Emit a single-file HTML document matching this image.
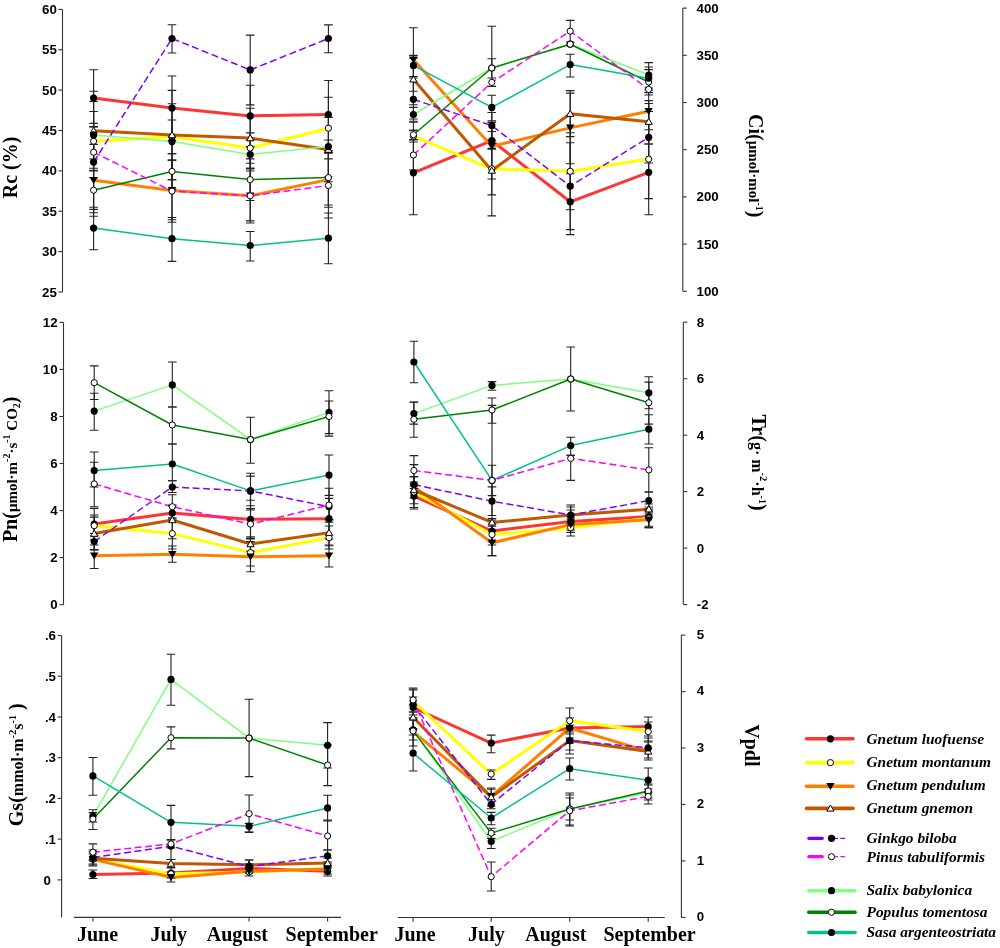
<!DOCTYPE html>
<html><head><meta charset="utf-8"><style>
html,body{margin:0;padding:0;background:#fff;}
svg{display:block;will-change:transform;}
</style></head><body>
<svg width="1000" height="948" viewBox="0 0 1000 948">
<rect width="1000" height="948" fill="#fff"/>
<path d="M62.5,9.4V292" stroke="#333" stroke-width="1.1" fill="none"/>
<path d="M58.5,9.4H62.5" stroke="#333" stroke-width="1.1"/>
<text x="56.8" y="13.9" font-family="Liberation Sans, sans-serif" font-weight="bold" font-size="13.3" text-anchor="end">60</text>
<path d="M58.5,49.8H62.5" stroke="#333" stroke-width="1.1"/>
<text x="56.8" y="54.3" font-family="Liberation Sans, sans-serif" font-weight="bold" font-size="13.3" text-anchor="end">55</text>
<path d="M58.5,90.1H62.5" stroke="#333" stroke-width="1.1"/>
<text x="56.8" y="94.6" font-family="Liberation Sans, sans-serif" font-weight="bold" font-size="13.3" text-anchor="end">50</text>
<path d="M58.5,130.5H62.5" stroke="#333" stroke-width="1.1"/>
<text x="56.8" y="135.0" font-family="Liberation Sans, sans-serif" font-weight="bold" font-size="13.3" text-anchor="end">45</text>
<path d="M58.5,170.9H62.5" stroke="#333" stroke-width="1.1"/>
<text x="56.8" y="175.4" font-family="Liberation Sans, sans-serif" font-weight="bold" font-size="13.3" text-anchor="end">40</text>
<path d="M58.5,211.2H62.5" stroke="#333" stroke-width="1.1"/>
<text x="56.8" y="215.8" font-family="Liberation Sans, sans-serif" font-weight="bold" font-size="13.3" text-anchor="end">35</text>
<path d="M58.5,251.6H62.5" stroke="#333" stroke-width="1.1"/>
<text x="56.8" y="256.1" font-family="Liberation Sans, sans-serif" font-weight="bold" font-size="13.3" text-anchor="end">30</text>
<path d="M58.5,292.0H62.5" stroke="#333" stroke-width="1.1"/>
<text x="56.8" y="296.5" font-family="Liberation Sans, sans-serif" font-weight="bold" font-size="13.3" text-anchor="end">25</text>
<polyline points="93.6,98.1 172.0,108.1 250.2,115.9 328.4,114.5" fill="none" stroke="#FF3535" stroke-width="3.0" stroke-linejoin="round"/>
<polyline points="93.6,141.2 172.0,136.8 250.2,148.1 328.4,128.2" fill="none" stroke="#FFFF00" stroke-width="3.0" stroke-linejoin="round"/>
<polyline points="93.6,180.3 172.0,190.4 250.2,195.8 328.4,179.6" fill="none" stroke="#FF8000" stroke-width="3.0" stroke-linejoin="round"/>
<polyline points="93.6,130.7 172.0,135.0 250.2,138.1 328.4,149.6" fill="none" stroke="#C05800" stroke-width="3.0" stroke-linejoin="round"/>
<polyline points="93.6,134.9 172.0,141.6 250.2,154.5 328.4,146.6" fill="none" stroke="#80FF80" stroke-width="1.5" stroke-linejoin="round"/>
<polyline points="93.6,190.2 172.0,171.4 250.2,179.6 328.4,177.6" fill="none" stroke="#008000" stroke-width="1.5" stroke-linejoin="round"/>
<polyline points="93.6,228.1 172.0,238.7 250.2,245.5 328.4,238.2" fill="none" stroke="#00C090" stroke-width="1.5" stroke-linejoin="round"/>
<polyline points="93.6,162.1 172.0,38.5 250.2,69.9 328.4,38.5" fill="none" stroke="#8000FF" stroke-width="1.5" stroke-linejoin="round" stroke-dasharray="7,3.5"/>
<polyline points="93.6,152.2 172.0,191.1 250.2,195.8 328.4,185.5" fill="none" stroke="#FF00FF" stroke-width="1.5" stroke-linejoin="round" stroke-dasharray="7,3.5"/>
<path d="M93.6,69.8V126.6M89.3,69.8H97.9M89.3,126.6H97.9" stroke="#222" stroke-width="1.1" fill="none"/>
<path d="M172.0,76.0V140.4M167.7,76.0H176.3M167.7,140.4H176.3" stroke="#222" stroke-width="1.1" fill="none"/>
<path d="M250.2,85.2V146.6M245.9,85.2H254.5M245.9,146.6H254.5" stroke="#222" stroke-width="1.1" fill="none"/>
<path d="M328.4,80.5V150.6M324.1,80.5H332.7M324.1,150.6H332.7" stroke="#222" stroke-width="1.1" fill="none"/>
<path d="M93.6,123.4V159.0M89.3,123.4H97.9M89.3,159.0H97.9" stroke="#222" stroke-width="1.1" fill="none"/>
<path d="M172.0,120.0V153.8M167.7,120.0H176.3M167.7,153.8H176.3" stroke="#222" stroke-width="1.1" fill="none"/>
<path d="M250.2,132.9V163.3M245.9,132.9H254.5M245.9,163.3H254.5" stroke="#222" stroke-width="1.1" fill="none"/>
<path d="M328.4,97.2V158.9M324.1,97.2H332.7M324.1,158.9H332.7" stroke="#222" stroke-width="1.1" fill="none"/>
<path d="M93.6,144.4V216.2M89.3,144.4H97.9M89.3,216.2H97.9" stroke="#222" stroke-width="1.1" fill="none"/>
<path d="M172.0,160.1V219.8M167.7,160.1H176.3M167.7,219.8H176.3" stroke="#222" stroke-width="1.1" fill="none"/>
<path d="M250.2,168.3V223.0M245.9,168.3H254.5M245.9,223.0H254.5" stroke="#222" stroke-width="1.1" fill="none"/>
<path d="M328.4,152.8V207.2M324.1,152.8H332.7M324.1,207.2H332.7" stroke="#222" stroke-width="1.1" fill="none"/>
<path d="M93.6,91.2V170.2M89.3,91.2H97.9M89.3,170.2H97.9" stroke="#222" stroke-width="1.1" fill="none"/>
<path d="M172.0,90.4V179.8M167.7,90.4H176.3M167.7,179.8H176.3" stroke="#222" stroke-width="1.1" fill="none"/>
<path d="M250.2,108.3V168.3M245.9,108.3H254.5M245.9,168.3H254.5" stroke="#222" stroke-width="1.1" fill="none"/>
<path d="M328.4,117.4V181.8M324.1,117.4H332.7M324.1,181.8H332.7" stroke="#222" stroke-width="1.1" fill="none"/>
<path d="M93.6,101.5V168.3M89.3,101.5H97.9M89.3,168.3H97.9" stroke="#222" stroke-width="1.1" fill="none"/>
<path d="M172.0,103.7V179.8M167.7,103.7H176.3M167.7,179.8H176.3" stroke="#222" stroke-width="1.1" fill="none"/>
<path d="M250.2,140.0V169.0M245.9,140.0H254.5M245.9,169.0H254.5" stroke="#222" stroke-width="1.1" fill="none"/>
<path d="M328.4,140.0V152.8M324.1,140.0H332.7M324.1,152.8H332.7" stroke="#222" stroke-width="1.1" fill="none"/>
<path d="M93.6,170.9V209.4M89.3,170.9H97.9M89.3,209.4H97.9" stroke="#222" stroke-width="1.1" fill="none"/>
<path d="M172.0,153.8V189.4M167.7,153.8H176.3M167.7,189.4H176.3" stroke="#222" stroke-width="1.1" fill="none"/>
<path d="M250.2,158.9V200.5M245.9,158.9H254.5M245.9,200.5H254.5" stroke="#222" stroke-width="1.1" fill="none"/>
<path d="M328.4,150.6V205.0M324.1,150.6H332.7M324.1,205.0H332.7" stroke="#222" stroke-width="1.1" fill="none"/>
<path d="M93.6,207.3V249.8M89.3,207.3H97.9M89.3,249.8H97.9" stroke="#222" stroke-width="1.1" fill="none"/>
<path d="M172.0,217.5V261.4M167.7,217.5H176.3M167.7,261.4H176.3" stroke="#222" stroke-width="1.1" fill="none"/>
<path d="M250.2,231.5V261.0M245.9,231.5H254.5M245.9,261.0H254.5" stroke="#222" stroke-width="1.1" fill="none"/>
<path d="M328.4,213.0V263.7M324.1,213.0H332.7M324.1,263.7H332.7" stroke="#222" stroke-width="1.1" fill="none"/>
<path d="M93.6,111.5V212.7M89.3,111.5H97.9M89.3,212.7H97.9" stroke="#222" stroke-width="1.1" fill="none"/>
<path d="M172.0,24.8V53.0M167.7,24.8H176.3M167.7,53.0H176.3" stroke="#222" stroke-width="1.1" fill="none"/>
<path d="M250.2,35.1V104.9M245.9,35.1H254.5M245.9,104.9H254.5" stroke="#222" stroke-width="1.1" fill="none"/>
<path d="M328.4,24.9V52.8M324.1,24.9H332.7M324.1,52.8H332.7" stroke="#222" stroke-width="1.1" fill="none"/>
<path d="M93.6,126.9V177.5M89.3,126.9H97.9M89.3,177.5H97.9" stroke="#222" stroke-width="1.1" fill="none"/>
<path d="M172.0,160.1V222.3M167.7,160.1H176.3M167.7,222.3H176.3" stroke="#222" stroke-width="1.1" fill="none"/>
<path d="M250.2,171.0V220.9M245.9,171.0H254.5M245.9,220.9H254.5" stroke="#222" stroke-width="1.1" fill="none"/>
<path d="M328.4,153.0V218.0M324.1,153.0H332.7M324.1,218.0H332.7" stroke="#222" stroke-width="1.1" fill="none"/>
<circle cx="93.6" cy="98.1" r="3.6" fill="#000"/>
<circle cx="172.0" cy="108.1" r="3.6" fill="#000"/>
<circle cx="250.2" cy="115.9" r="3.6" fill="#000"/>
<circle cx="328.4" cy="114.5" r="3.6" fill="#000"/>
<circle cx="93.6" cy="141.2" r="3.1" fill="#fff" stroke="#000" stroke-width="1"/>
<circle cx="172.0" cy="136.8" r="3.1" fill="#fff" stroke="#000" stroke-width="1"/>
<circle cx="250.2" cy="148.1" r="3.1" fill="#fff" stroke="#000" stroke-width="1"/>
<circle cx="328.4" cy="128.2" r="3.1" fill="#fff" stroke="#000" stroke-width="1"/>
<path d="M89.4,177.0L97.8,177.0L93.6,184.1Z" fill="#000"/>
<path d="M167.8,187.1L176.2,187.1L172.0,194.2Z" fill="#000"/>
<path d="M246.0,192.5L254.4,192.5L250.2,199.6Z" fill="#000"/>
<path d="M324.2,176.3L332.6,176.3L328.4,183.4Z" fill="#000"/>
<path d="M90.0,133.4L97.2,133.4L93.6,127.3Z" fill="#fff" stroke="#000" stroke-width="1"/>
<path d="M168.4,137.7L175.6,137.7L172.0,131.6Z" fill="#fff" stroke="#000" stroke-width="1"/>
<path d="M246.6,140.8L253.8,140.8L250.2,134.7Z" fill="#fff" stroke="#000" stroke-width="1"/>
<path d="M324.8,152.3L332.0,152.3L328.4,146.2Z" fill="#fff" stroke="#000" stroke-width="1"/>
<circle cx="93.6" cy="134.9" r="3.6" fill="#000"/>
<circle cx="172.0" cy="141.6" r="3.6" fill="#000"/>
<circle cx="250.2" cy="154.5" r="3.6" fill="#000"/>
<circle cx="328.4" cy="146.6" r="3.6" fill="#000"/>
<circle cx="93.6" cy="190.2" r="3.1" fill="#fff" stroke="#000" stroke-width="1"/>
<circle cx="172.0" cy="171.4" r="3.1" fill="#fff" stroke="#000" stroke-width="1"/>
<circle cx="250.2" cy="179.6" r="3.1" fill="#fff" stroke="#000" stroke-width="1"/>
<circle cx="328.4" cy="177.6" r="3.1" fill="#fff" stroke="#000" stroke-width="1"/>
<circle cx="93.6" cy="228.1" r="3.6" fill="#000"/>
<circle cx="172.0" cy="238.7" r="3.6" fill="#000"/>
<circle cx="250.2" cy="245.5" r="3.6" fill="#000"/>
<circle cx="328.4" cy="238.2" r="3.6" fill="#000"/>
<circle cx="93.6" cy="162.1" r="3.6" fill="#000"/>
<circle cx="172.0" cy="38.5" r="3.6" fill="#000"/>
<circle cx="250.2" cy="69.9" r="3.6" fill="#000"/>
<circle cx="328.4" cy="38.5" r="3.6" fill="#000"/>
<circle cx="93.6" cy="152.2" r="3.1" fill="#fff" stroke="#000" stroke-width="1"/>
<circle cx="172.0" cy="191.1" r="3.1" fill="#fff" stroke="#000" stroke-width="1"/>
<circle cx="250.2" cy="195.8" r="3.1" fill="#fff" stroke="#000" stroke-width="1"/>
<circle cx="328.4" cy="185.5" r="3.1" fill="#fff" stroke="#000" stroke-width="1"/>
<path d="M682.8,8.1V291.3" stroke="#333" stroke-width="1.1" fill="none"/>
<path d="M682.8,8.1H686.8" stroke="#333" stroke-width="1.1"/>
<text x="696.5" y="12.6" font-family="Liberation Sans, sans-serif" font-weight="bold" font-size="13.3">400</text>
<path d="M682.8,55.3H686.8" stroke="#333" stroke-width="1.1"/>
<text x="696.5" y="59.8" font-family="Liberation Sans, sans-serif" font-weight="bold" font-size="13.3">350</text>
<path d="M682.8,102.5H686.8" stroke="#333" stroke-width="1.1"/>
<text x="696.5" y="107.0" font-family="Liberation Sans, sans-serif" font-weight="bold" font-size="13.3">300</text>
<path d="M682.8,149.7H686.8" stroke="#333" stroke-width="1.1"/>
<text x="696.5" y="154.2" font-family="Liberation Sans, sans-serif" font-weight="bold" font-size="13.3">250</text>
<path d="M682.8,196.9H686.8" stroke="#333" stroke-width="1.1"/>
<text x="696.5" y="201.4" font-family="Liberation Sans, sans-serif" font-weight="bold" font-size="13.3">200</text>
<path d="M682.8,244.1H686.8" stroke="#333" stroke-width="1.1"/>
<text x="696.5" y="248.6" font-family="Liberation Sans, sans-serif" font-weight="bold" font-size="13.3">150</text>
<path d="M682.8,291.3H686.8" stroke="#333" stroke-width="1.1"/>
<text x="696.5" y="295.8" font-family="Liberation Sans, sans-serif" font-weight="bold" font-size="13.3">100</text>
<polyline points="413.4,172.8 491.8,140.7 570.2,201.8 648.7,172.3" fill="none" stroke="#FF3535" stroke-width="3.0" stroke-linejoin="round"/>
<polyline points="413.4,136.2 491.8,168.8 570.2,171.3 648.7,159.1" fill="none" stroke="#FFFF00" stroke-width="3.0" stroke-linejoin="round"/>
<polyline points="413.4,59.8 491.8,146.2 570.2,127.9 648.7,111.2" fill="none" stroke="#FF8000" stroke-width="3.0" stroke-linejoin="round"/>
<polyline points="413.4,79.3 491.8,170.5 570.2,113.7 648.7,121.7" fill="none" stroke="#C05800" stroke-width="3.0" stroke-linejoin="round"/>
<polyline points="413.4,114.5 491.8,68.0 570.2,44.2 648.7,75.0" fill="none" stroke="#80FF80" stroke-width="1.5" stroke-linejoin="round"/>
<polyline points="413.4,134.7 491.8,68.0 570.2,44.2 648.7,82.0" fill="none" stroke="#008000" stroke-width="1.5" stroke-linejoin="round"/>
<polyline points="413.4,65.4 491.8,107.4 570.2,64.6 648.7,78.2" fill="none" stroke="#00C090" stroke-width="1.5" stroke-linejoin="round"/>
<polyline points="413.4,99.3 491.8,125.6 570.2,186.2 648.7,137.3" fill="none" stroke="#8000FF" stroke-width="1.5" stroke-linejoin="round" stroke-dasharray="7,3.5"/>
<polyline points="413.4,155.0 491.8,82.4 570.2,31.1 648.7,89.4" fill="none" stroke="#FF00FF" stroke-width="1.5" stroke-linejoin="round" stroke-dasharray="7,3.5"/>
<path d="M413.4,130.8V214.8M409.1,130.8H417.7M409.1,214.8H417.7" stroke="#222" stroke-width="1.1" fill="none"/>
<path d="M491.8,131.5V149.3M487.5,131.5H496.1M487.5,149.3H496.1" stroke="#222" stroke-width="1.1" fill="none"/>
<path d="M570.2,173.8V234.6M565.9,173.8H574.5M565.9,234.6H574.5" stroke="#222" stroke-width="1.1" fill="none"/>
<path d="M648.7,144.0V198.6M644.4,144.0H653.0M644.4,198.6H653.0" stroke="#222" stroke-width="1.1" fill="none"/>
<path d="M413.4,130.0V142.0M409.1,130.0H417.7M409.1,142.0H417.7" stroke="#222" stroke-width="1.1" fill="none"/>
<path d="M491.8,122.3V215.9M487.5,122.3H496.1M487.5,215.9H496.1" stroke="#222" stroke-width="1.1" fill="none"/>
<path d="M570.2,132.8V209.8M565.9,132.8H574.5M565.9,209.8H574.5" stroke="#222" stroke-width="1.1" fill="none"/>
<path d="M648.7,103.5V214.7M644.4,103.5H653.0M644.4,214.7H653.0" stroke="#222" stroke-width="1.1" fill="none"/>
<path d="M413.4,27.7V91.3M409.1,27.7H417.7M409.1,91.3H417.7" stroke="#222" stroke-width="1.1" fill="none"/>
<path d="M491.8,122.3V179.0M487.5,122.3H496.1M487.5,179.0H496.1" stroke="#222" stroke-width="1.1" fill="none"/>
<path d="M570.2,93.1V163.8M565.9,93.1H574.5M565.9,163.8H574.5" stroke="#222" stroke-width="1.1" fill="none"/>
<path d="M648.7,92.6V129.8M644.4,92.6H653.0M644.4,129.8H653.0" stroke="#222" stroke-width="1.1" fill="none"/>
<path d="M413.4,58.1V104.8M409.1,58.1H417.7M409.1,104.8H417.7" stroke="#222" stroke-width="1.1" fill="none"/>
<path d="M491.8,148.4V194.9M487.5,148.4H496.1M487.5,194.9H496.1" stroke="#222" stroke-width="1.1" fill="none"/>
<path d="M570.2,90.6V136.6M565.9,90.6H574.5M565.9,136.6H574.5" stroke="#222" stroke-width="1.1" fill="none"/>
<path d="M648.7,100.6V144.0M644.4,100.6H653.0M644.4,144.0H653.0" stroke="#222" stroke-width="1.1" fill="none"/>
<path d="M413.4,107.4V121.2M409.1,107.4H417.7M409.1,121.2H417.7" stroke="#222" stroke-width="1.1" fill="none"/>
<path d="M491.8,58.7V78.0M487.5,58.7H496.1M487.5,78.0H496.1" stroke="#222" stroke-width="1.1" fill="none"/>
<path d="M648.7,62.6V88.0M644.4,62.6H653.0M644.4,88.0H653.0" stroke="#222" stroke-width="1.1" fill="none"/>
<path d="M413.4,122.3V139.5M409.1,122.3H417.7M409.1,139.5H417.7" stroke="#222" stroke-width="1.1" fill="none"/>
<path d="M648.7,69.6V95.0M644.4,69.6H653.0M644.4,95.0H653.0" stroke="#222" stroke-width="1.1" fill="none"/>
<path d="M413.4,55.4V76.5M409.1,55.4H417.7M409.1,76.5H417.7" stroke="#222" stroke-width="1.1" fill="none"/>
<path d="M491.8,95.3V120.7M487.5,95.3H496.1M487.5,120.7H496.1" stroke="#222" stroke-width="1.1" fill="none"/>
<path d="M570.2,54.2V77.0M565.9,54.2H574.5M565.9,77.0H574.5" stroke="#222" stroke-width="1.1" fill="none"/>
<path d="M648.7,67.0V90.0M644.4,67.0H653.0M644.4,90.0H653.0" stroke="#222" stroke-width="1.1" fill="none"/>
<path d="M413.4,78.0V119.0M409.1,78.0H417.7M409.1,119.0H417.7" stroke="#222" stroke-width="1.1" fill="none"/>
<path d="M491.8,112.5V140.0M487.5,112.5H496.1M487.5,140.0H496.1" stroke="#222" stroke-width="1.1" fill="none"/>
<path d="M570.2,142.8V229.6M565.9,142.8H574.5M565.9,229.6H574.5" stroke="#222" stroke-width="1.1" fill="none"/>
<path d="M648.7,111.5V163.0M644.4,111.5H653.0M644.4,163.0H653.0" stroke="#222" stroke-width="1.1" fill="none"/>
<path d="M413.4,140.0V170.0M409.1,140.0H417.7M409.1,170.0H417.7" stroke="#222" stroke-width="1.1" fill="none"/>
<path d="M491.8,26.2V86.4M487.5,26.2H496.1M487.5,86.4H496.1" stroke="#222" stroke-width="1.1" fill="none"/>
<path d="M570.2,20.4V42.0M565.9,20.4H574.5M565.9,42.0H574.5" stroke="#222" stroke-width="1.1" fill="none"/>
<circle cx="413.4" cy="172.8" r="3.6" fill="#000"/>
<circle cx="491.8" cy="140.7" r="3.6" fill="#000"/>
<circle cx="570.2" cy="201.8" r="3.6" fill="#000"/>
<circle cx="648.7" cy="172.3" r="3.6" fill="#000"/>
<circle cx="413.4" cy="136.2" r="3.1" fill="#fff" stroke="#000" stroke-width="1"/>
<circle cx="491.8" cy="168.8" r="3.1" fill="#fff" stroke="#000" stroke-width="1"/>
<circle cx="570.2" cy="171.3" r="3.1" fill="#fff" stroke="#000" stroke-width="1"/>
<circle cx="648.7" cy="159.1" r="3.1" fill="#fff" stroke="#000" stroke-width="1"/>
<path d="M409.2,56.5L417.6,56.5L413.4,63.6Z" fill="#000"/>
<path d="M487.6,142.9L496.0,142.9L491.8,150.0Z" fill="#000"/>
<path d="M566.0,124.6L574.4,124.6L570.2,131.7Z" fill="#000"/>
<path d="M644.5,107.9L652.9,107.9L648.7,115.0Z" fill="#000"/>
<path d="M409.8,82.0L417.0,82.0L413.4,75.9Z" fill="#fff" stroke="#000" stroke-width="1"/>
<path d="M488.2,173.2L495.4,173.2L491.8,167.1Z" fill="#fff" stroke="#000" stroke-width="1"/>
<path d="M566.6,116.4L573.8,116.4L570.2,110.3Z" fill="#fff" stroke="#000" stroke-width="1"/>
<path d="M645.1,124.4L652.3,124.4L648.7,118.3Z" fill="#fff" stroke="#000" stroke-width="1"/>
<circle cx="413.4" cy="114.5" r="3.6" fill="#000"/>
<circle cx="491.8" cy="68.0" r="3.6" fill="#000"/>
<circle cx="570.2" cy="44.2" r="3.6" fill="#000"/>
<circle cx="648.7" cy="75.0" r="3.6" fill="#000"/>
<circle cx="413.4" cy="134.7" r="3.1" fill="#fff" stroke="#000" stroke-width="1"/>
<circle cx="491.8" cy="68.0" r="3.1" fill="#fff" stroke="#000" stroke-width="1"/>
<circle cx="570.2" cy="44.2" r="3.1" fill="#fff" stroke="#000" stroke-width="1"/>
<circle cx="648.7" cy="82.0" r="3.1" fill="#fff" stroke="#000" stroke-width="1"/>
<circle cx="413.4" cy="65.4" r="3.6" fill="#000"/>
<circle cx="491.8" cy="107.4" r="3.6" fill="#000"/>
<circle cx="570.2" cy="64.6" r="3.6" fill="#000"/>
<circle cx="648.7" cy="78.2" r="3.6" fill="#000"/>
<circle cx="413.4" cy="99.3" r="3.6" fill="#000"/>
<circle cx="491.8" cy="125.6" r="3.6" fill="#000"/>
<circle cx="570.2" cy="186.2" r="3.6" fill="#000"/>
<circle cx="648.7" cy="137.3" r="3.6" fill="#000"/>
<circle cx="413.4" cy="155.0" r="3.1" fill="#fff" stroke="#000" stroke-width="1"/>
<circle cx="491.8" cy="82.4" r="3.1" fill="#fff" stroke="#000" stroke-width="1"/>
<circle cx="570.2" cy="31.1" r="3.1" fill="#fff" stroke="#000" stroke-width="1"/>
<circle cx="648.7" cy="89.4" r="3.1" fill="#fff" stroke="#000" stroke-width="1"/>
<path d="M63.5,322.4V604.7" stroke="#333" stroke-width="1.1" fill="none"/>
<path d="M59.5,322.4H63.5" stroke="#333" stroke-width="1.1"/>
<text x="57.6" y="326.9" font-family="Liberation Sans, sans-serif" font-weight="bold" font-size="13.3" text-anchor="end">12</text>
<path d="M59.5,369.4H63.5" stroke="#333" stroke-width="1.1"/>
<text x="57.6" y="373.9" font-family="Liberation Sans, sans-serif" font-weight="bold" font-size="13.3" text-anchor="end">10</text>
<path d="M59.5,416.5H63.5" stroke="#333" stroke-width="1.1"/>
<text x="57.6" y="421.0" font-family="Liberation Sans, sans-serif" font-weight="bold" font-size="13.3" text-anchor="end">8</text>
<path d="M59.5,463.5H63.5" stroke="#333" stroke-width="1.1"/>
<text x="57.6" y="468.0" font-family="Liberation Sans, sans-serif" font-weight="bold" font-size="13.3" text-anchor="end">6</text>
<path d="M59.5,510.6H63.5" stroke="#333" stroke-width="1.1"/>
<text x="57.6" y="515.1" font-family="Liberation Sans, sans-serif" font-weight="bold" font-size="13.3" text-anchor="end">4</text>
<path d="M59.5,557.6H63.5" stroke="#333" stroke-width="1.1"/>
<text x="57.6" y="562.1" font-family="Liberation Sans, sans-serif" font-weight="bold" font-size="13.3" text-anchor="end">2</text>
<path d="M59.5,604.7H63.5" stroke="#333" stroke-width="1.1"/>
<text x="57.6" y="609.2" font-family="Liberation Sans, sans-serif" font-weight="bold" font-size="13.3" text-anchor="end">0</text>
<polyline points="94.2,524.1 172.3,513.0 250.5,519.4 329.0,518.7" fill="none" stroke="#FF3535" stroke-width="3.0" stroke-linejoin="round"/>
<polyline points="94.2,525.7 172.3,533.6 250.5,552.6 329.0,537.7" fill="none" stroke="#FFFF00" stroke-width="3.0" stroke-linejoin="round"/>
<polyline points="94.2,555.8 172.3,554.2 250.5,556.7 329.0,555.8" fill="none" stroke="#FF8000" stroke-width="3.0" stroke-linejoin="round"/>
<polyline points="94.2,533.6 172.3,520.0 250.5,544.0 329.0,532.7" fill="none" stroke="#C05800" stroke-width="3.0" stroke-linejoin="round"/>
<polyline points="94.2,411.1 172.3,384.9 250.5,439.6 329.0,412.4" fill="none" stroke="#80FF80" stroke-width="1.5" stroke-linejoin="round"/>
<polyline points="94.2,382.7 172.3,425.0 250.5,439.6 329.0,416.5" fill="none" stroke="#008000" stroke-width="1.5" stroke-linejoin="round"/>
<polyline points="94.2,470.6 172.3,464.0 250.5,490.9 329.0,475.1" fill="none" stroke="#00C090" stroke-width="1.5" stroke-linejoin="round"/>
<polyline points="94.2,541.5 172.3,487.1 250.5,490.9 329.0,506.7" fill="none" stroke="#8000FF" stroke-width="1.5" stroke-linejoin="round" stroke-dasharray="7,3.5"/>
<polyline points="94.2,483.9 172.3,506.7 250.5,524.1 329.0,505.1" fill="none" stroke="#FF00FF" stroke-width="1.5" stroke-linejoin="round" stroke-dasharray="7,3.5"/>
<path d="M94.2,508.4V540.0M89.9,508.4H98.5M89.9,540.0H98.5" stroke="#222" stroke-width="1.1" fill="none"/>
<path d="M172.3,506.0V520.0M168.0,506.0H176.6M168.0,520.0H176.6" stroke="#222" stroke-width="1.1" fill="none"/>
<path d="M250.5,500.3V538.5M246.2,500.3H254.8M246.2,538.5H254.8" stroke="#222" stroke-width="1.1" fill="none"/>
<path d="M329.0,498.4V539.0M324.7,498.4H333.3M324.7,539.0H333.3" stroke="#222" stroke-width="1.1" fill="none"/>
<path d="M94.2,515.0V536.0M89.9,515.0H98.5M89.9,536.0H98.5" stroke="#222" stroke-width="1.1" fill="none"/>
<path d="M172.3,518.0V549.0M168.0,518.0H176.6M168.0,549.0H176.6" stroke="#222" stroke-width="1.1" fill="none"/>
<path d="M250.5,539.0V566.0M246.2,539.0H254.8M246.2,566.0H254.8" stroke="#222" stroke-width="1.1" fill="none"/>
<path d="M329.0,526.0V549.0M324.7,526.0H333.3M324.7,549.0H333.3" stroke="#222" stroke-width="1.1" fill="none"/>
<path d="M94.2,545.0V568.5M89.9,545.0H98.5M89.9,568.5H98.5" stroke="#222" stroke-width="1.1" fill="none"/>
<path d="M172.3,546.0V562.3M168.0,546.0H176.6M168.0,562.3H176.6" stroke="#222" stroke-width="1.1" fill="none"/>
<path d="M250.5,541.6V571.8M246.2,541.6H254.8M246.2,571.8H254.8" stroke="#222" stroke-width="1.1" fill="none"/>
<path d="M329.0,545.0V567.0M324.7,545.0H333.3M324.7,567.0H333.3" stroke="#222" stroke-width="1.1" fill="none"/>
<path d="M94.2,517.1V550.0M89.9,517.1H98.5M89.9,550.0H98.5" stroke="#222" stroke-width="1.1" fill="none"/>
<path d="M172.3,505.0V538.8M168.0,505.0H176.6M168.0,538.8H176.6" stroke="#222" stroke-width="1.1" fill="none"/>
<path d="M250.5,536.7V551.3M246.2,536.7H254.8M246.2,551.3H254.8" stroke="#222" stroke-width="1.1" fill="none"/>
<path d="M329.0,519.7V545.7M324.7,519.7H333.3M324.7,545.7H333.3" stroke="#222" stroke-width="1.1" fill="none"/>
<path d="M94.2,393.2V430.2M89.9,393.2H98.5M89.9,430.2H98.5" stroke="#222" stroke-width="1.1" fill="none"/>
<path d="M172.3,362.0V407.0M168.0,362.0H176.6M168.0,407.0H176.6" stroke="#222" stroke-width="1.1" fill="none"/>
<path d="M329.0,390.7V436.1M324.7,390.7H333.3M324.7,436.1H333.3" stroke="#222" stroke-width="1.1" fill="none"/>
<path d="M94.2,365.9V399.5M89.9,365.9H98.5M89.9,399.5H98.5" stroke="#222" stroke-width="1.1" fill="none"/>
<path d="M172.3,407.0V444.0M168.0,407.0H176.6M168.0,444.0H176.6" stroke="#222" stroke-width="1.1" fill="none"/>
<path d="M250.5,417.2V463.2M246.2,417.2H254.8M246.2,463.2H254.8" stroke="#222" stroke-width="1.1" fill="none"/>
<path d="M329.0,401.0V433.6M324.7,401.0H333.3M324.7,433.6H333.3" stroke="#222" stroke-width="1.1" fill="none"/>
<path d="M94.2,452.0V487.0M89.9,452.0H98.5M89.9,487.0H98.5" stroke="#222" stroke-width="1.1" fill="none"/>
<path d="M172.3,444.0V480.8M168.0,444.0H176.6M168.0,480.8H176.6" stroke="#222" stroke-width="1.1" fill="none"/>
<path d="M250.5,473.2V508.6M246.2,473.2H254.8M246.2,508.6H254.8" stroke="#222" stroke-width="1.1" fill="none"/>
<path d="M329.0,455.0V495.2M324.7,455.0H333.3M324.7,495.2H333.3" stroke="#222" stroke-width="1.1" fill="none"/>
<path d="M94.2,533.5V549.6M89.9,533.5H98.5M89.9,549.6H98.5" stroke="#222" stroke-width="1.1" fill="none"/>
<path d="M172.3,480.8V492.5M168.0,480.8H176.6M168.0,492.5H176.6" stroke="#222" stroke-width="1.1" fill="none"/>
<path d="M250.5,476.1V505.7M246.2,476.1H254.8M246.2,505.7H254.8" stroke="#222" stroke-width="1.1" fill="none"/>
<path d="M329.0,495.5V519.7M324.7,495.5H333.3M324.7,519.7H333.3" stroke="#222" stroke-width="1.1" fill="none"/>
<path d="M94.2,462.2V506.7M89.9,462.2H98.5M89.9,506.7H98.5" stroke="#222" stroke-width="1.1" fill="none"/>
<path d="M172.3,494.7V518.0M168.0,494.7H176.6M168.0,518.0H176.6" stroke="#222" stroke-width="1.1" fill="none"/>
<path d="M250.5,510.0V538.0M246.2,510.0H254.8M246.2,538.0H254.8" stroke="#222" stroke-width="1.1" fill="none"/>
<path d="M329.0,488.2V522.1M324.7,488.2H333.3M324.7,522.1H333.3" stroke="#222" stroke-width="1.1" fill="none"/>
<circle cx="94.2" cy="524.1" r="3.6" fill="#000"/>
<circle cx="172.3" cy="513.0" r="3.6" fill="#000"/>
<circle cx="250.5" cy="519.4" r="3.6" fill="#000"/>
<circle cx="329.0" cy="518.7" r="3.6" fill="#000"/>
<circle cx="94.2" cy="525.7" r="3.1" fill="#fff" stroke="#000" stroke-width="1"/>
<circle cx="172.3" cy="533.6" r="3.1" fill="#fff" stroke="#000" stroke-width="1"/>
<circle cx="250.5" cy="552.6" r="3.1" fill="#fff" stroke="#000" stroke-width="1"/>
<circle cx="329.0" cy="537.7" r="3.1" fill="#fff" stroke="#000" stroke-width="1"/>
<path d="M90.0,552.5L98.4,552.5L94.2,559.6Z" fill="#000"/>
<path d="M168.1,550.9L176.5,550.9L172.3,558.0Z" fill="#000"/>
<path d="M246.3,553.4L254.7,553.4L250.5,560.5Z" fill="#000"/>
<path d="M324.8,552.5L333.2,552.5L329.0,559.6Z" fill="#000"/>
<path d="M90.6,536.3L97.8,536.3L94.2,530.2Z" fill="#fff" stroke="#000" stroke-width="1"/>
<path d="M168.7,522.7L175.9,522.7L172.3,516.6Z" fill="#fff" stroke="#000" stroke-width="1"/>
<path d="M246.9,546.7L254.1,546.7L250.5,540.6Z" fill="#fff" stroke="#000" stroke-width="1"/>
<path d="M325.4,535.4L332.6,535.4L329.0,529.3Z" fill="#fff" stroke="#000" stroke-width="1"/>
<circle cx="94.2" cy="411.1" r="3.6" fill="#000"/>
<circle cx="172.3" cy="384.9" r="3.6" fill="#000"/>
<circle cx="250.5" cy="439.6" r="3.6" fill="#000"/>
<circle cx="329.0" cy="412.4" r="3.6" fill="#000"/>
<circle cx="94.2" cy="382.7" r="3.1" fill="#fff" stroke="#000" stroke-width="1"/>
<circle cx="172.3" cy="425.0" r="3.1" fill="#fff" stroke="#000" stroke-width="1"/>
<circle cx="250.5" cy="439.6" r="3.1" fill="#fff" stroke="#000" stroke-width="1"/>
<circle cx="329.0" cy="416.5" r="3.1" fill="#fff" stroke="#000" stroke-width="1"/>
<circle cx="94.2" cy="470.6" r="3.6" fill="#000"/>
<circle cx="172.3" cy="464.0" r="3.6" fill="#000"/>
<circle cx="250.5" cy="490.9" r="3.6" fill="#000"/>
<circle cx="329.0" cy="475.1" r="3.6" fill="#000"/>
<circle cx="94.2" cy="541.5" r="3.6" fill="#000"/>
<circle cx="172.3" cy="487.1" r="3.6" fill="#000"/>
<circle cx="250.5" cy="490.9" r="3.6" fill="#000"/>
<circle cx="329.0" cy="506.7" r="3.6" fill="#000"/>
<circle cx="94.2" cy="483.9" r="3.1" fill="#fff" stroke="#000" stroke-width="1"/>
<circle cx="172.3" cy="506.7" r="3.1" fill="#fff" stroke="#000" stroke-width="1"/>
<circle cx="250.5" cy="524.1" r="3.1" fill="#fff" stroke="#000" stroke-width="1"/>
<circle cx="329.0" cy="505.1" r="3.1" fill="#fff" stroke="#000" stroke-width="1"/>
<path d="M683.3,322.2V604.6" stroke="#333" stroke-width="1.1" fill="none"/>
<path d="M683.3,322.2H687.3" stroke="#333" stroke-width="1.1"/>
<text x="696.8" y="326.7" font-family="Liberation Sans, sans-serif" font-weight="bold" font-size="13.3">8</text>
<path d="M683.3,378.7H687.3" stroke="#333" stroke-width="1.1"/>
<text x="696.8" y="383.2" font-family="Liberation Sans, sans-serif" font-weight="bold" font-size="13.3">6</text>
<path d="M683.3,435.2H687.3" stroke="#333" stroke-width="1.1"/>
<text x="696.8" y="439.7" font-family="Liberation Sans, sans-serif" font-weight="bold" font-size="13.3">4</text>
<path d="M683.3,491.6H687.3" stroke="#333" stroke-width="1.1"/>
<text x="696.8" y="496.1" font-family="Liberation Sans, sans-serif" font-weight="bold" font-size="13.3">2</text>
<path d="M683.3,548.1H687.3" stroke="#333" stroke-width="1.1"/>
<text x="696.8" y="552.6" font-family="Liberation Sans, sans-serif" font-weight="bold" font-size="13.3">0</text>
<path d="M683.3,604.6H687.3" stroke="#333" stroke-width="1.1"/>
<text x="696.8" y="609.1" font-family="Liberation Sans, sans-serif" font-weight="bold" font-size="13.3">-2</text>
<polyline points="413.9,496.1 492.0,531.0 570.7,521.4 648.8,516.6" fill="none" stroke="#FF3535" stroke-width="3.0" stroke-linejoin="round"/>
<polyline points="413.9,492.0 492.0,534.5 570.7,527.8 648.8,518.2" fill="none" stroke="#FFFF00" stroke-width="3.0" stroke-linejoin="round"/>
<polyline points="413.9,486.8 492.0,542.8 570.7,524.6 648.8,519.8" fill="none" stroke="#FF8000" stroke-width="3.0" stroke-linejoin="round"/>
<polyline points="413.9,490.0 492.0,522.4 570.7,515.0 648.8,509.2" fill="none" stroke="#C05800" stroke-width="3.0" stroke-linejoin="round"/>
<polyline points="413.9,413.6 492.0,385.4 570.7,379.0 648.8,392.8" fill="none" stroke="#80FF80" stroke-width="1.5" stroke-linejoin="round"/>
<polyline points="413.9,419.3 492.0,410.0 570.7,379.0 648.8,402.7" fill="none" stroke="#008000" stroke-width="1.5" stroke-linejoin="round"/>
<polyline points="413.9,362.0 492.0,480.4 570.7,445.6 648.8,429.2" fill="none" stroke="#00C090" stroke-width="1.5" stroke-linejoin="round"/>
<polyline points="413.9,484.6 492.0,501.2 570.7,515.0 648.8,500.6" fill="none" stroke="#8000FF" stroke-width="1.5" stroke-linejoin="round" stroke-dasharray="7,3.5"/>
<polyline points="413.9,470.5 492.0,480.4 570.7,458.4 648.8,469.9" fill="none" stroke="#FF00FF" stroke-width="1.5" stroke-linejoin="round" stroke-dasharray="7,3.5"/>
<path d="M413.9,488.5V503.7M409.6,488.5H418.2M409.6,503.7H418.2" stroke="#222" stroke-width="1.1" fill="none"/>
<path d="M492.0,520.0V542.0M487.7,520.0H496.3M487.7,542.0H496.3" stroke="#222" stroke-width="1.1" fill="none"/>
<path d="M570.7,510.0V530.0M566.4,510.0H575.0M566.4,530.0H575.0" stroke="#222" stroke-width="1.1" fill="none"/>
<path d="M648.8,507.0V526.2M644.5,507.0H653.1M644.5,526.2H653.1" stroke="#222" stroke-width="1.1" fill="none"/>
<path d="M413.9,476.5V507.5M409.6,476.5H418.2M409.6,507.5H418.2" stroke="#222" stroke-width="1.1" fill="none"/>
<path d="M492.0,524.0V545.0M487.7,524.0H496.3M487.7,545.0H496.3" stroke="#222" stroke-width="1.1" fill="none"/>
<path d="M570.7,519.0V536.0M566.4,519.0H575.0M566.4,536.0H575.0" stroke="#222" stroke-width="1.1" fill="none"/>
<path d="M648.8,510.0V527.6M644.5,510.0H653.1M644.5,527.6H653.1" stroke="#222" stroke-width="1.1" fill="none"/>
<path d="M413.9,464.6V509.0M409.6,464.6H418.2M409.6,509.0H418.2" stroke="#222" stroke-width="1.1" fill="none"/>
<path d="M492.0,530.0V555.6M487.7,530.0H496.3M487.7,555.6H496.3" stroke="#222" stroke-width="1.1" fill="none"/>
<path d="M570.7,515.0V532.4M566.4,515.0H575.0M566.4,532.4H575.0" stroke="#222" stroke-width="1.1" fill="none"/>
<path d="M648.8,512.0V527.6M644.5,512.0H653.1M644.5,527.6H653.1" stroke="#222" stroke-width="1.1" fill="none"/>
<path d="M413.9,482.0V498.0M409.6,482.0H418.2M409.6,498.0H418.2" stroke="#222" stroke-width="1.1" fill="none"/>
<path d="M492.0,518.5V526.3M487.7,518.5H496.3M487.7,526.3H496.3" stroke="#222" stroke-width="1.1" fill="none"/>
<path d="M570.7,507.0V523.0M566.4,507.0H575.0M566.4,523.0H575.0" stroke="#222" stroke-width="1.1" fill="none"/>
<path d="M648.8,504.0V514.0M644.5,504.0H653.1M644.5,514.0H653.1" stroke="#222" stroke-width="1.1" fill="none"/>
<path d="M413.9,402.2V424.1M409.6,402.2H418.2M409.6,424.1H418.2" stroke="#222" stroke-width="1.1" fill="none"/>
<path d="M492.0,381.6V390.2M487.7,381.6H496.3M487.7,390.2H496.3" stroke="#222" stroke-width="1.1" fill="none"/>
<path d="M648.8,376.8V408.8M644.5,376.8H653.1M644.5,408.8H653.1" stroke="#222" stroke-width="1.1" fill="none"/>
<path d="M413.9,402.0V437.2M409.6,402.0H418.2M409.6,437.2H418.2" stroke="#222" stroke-width="1.1" fill="none"/>
<path d="M492.0,398.0V423.3M487.7,398.0H496.3M487.7,423.3H496.3" stroke="#222" stroke-width="1.1" fill="none"/>
<path d="M570.7,347.0V411.0M566.4,347.0H575.0M566.4,411.0H575.0" stroke="#222" stroke-width="1.1" fill="none"/>
<path d="M648.8,382.1V424.1M644.5,382.1H653.1M644.5,424.1H653.1" stroke="#222" stroke-width="1.1" fill="none"/>
<path d="M413.9,341.2V382.8M409.6,341.2H418.2M409.6,382.8H418.2" stroke="#222" stroke-width="1.1" fill="none"/>
<path d="M492.0,465.2V495.6M487.7,465.2H496.3M487.7,495.6H496.3" stroke="#222" stroke-width="1.1" fill="none"/>
<path d="M570.7,437.2V455.2M566.4,437.2H575.0M566.4,455.2H575.0" stroke="#222" stroke-width="1.1" fill="none"/>
<path d="M648.8,414.8V444.0M644.5,414.8H653.1M644.5,444.0H653.1" stroke="#222" stroke-width="1.1" fill="none"/>
<path d="M413.9,477.0V493.0M409.6,477.0H418.2M409.6,493.0H418.2" stroke="#222" stroke-width="1.1" fill="none"/>
<path d="M492.0,486.9V515.5M487.7,486.9H496.3M487.7,515.5H496.3" stroke="#222" stroke-width="1.1" fill="none"/>
<path d="M570.7,505.0V525.0M566.4,505.0H575.0M566.4,525.0H575.0" stroke="#222" stroke-width="1.1" fill="none"/>
<path d="M648.8,492.0V509.0M644.5,492.0H653.1M644.5,509.0H653.1" stroke="#222" stroke-width="1.1" fill="none"/>
<path d="M413.9,455.6V486.0M409.6,455.6H418.2M409.6,486.0H418.2" stroke="#222" stroke-width="1.1" fill="none"/>
<path d="M492.0,405.4V555.6M487.7,405.4H496.3M487.7,555.6H496.3" stroke="#222" stroke-width="1.1" fill="none"/>
<path d="M570.7,455.2V480.4M566.4,455.2H575.0M566.4,480.4H575.0" stroke="#222" stroke-width="1.1" fill="none"/>
<path d="M648.8,447.8V492.0M644.5,447.8H653.1M644.5,492.0H653.1" stroke="#222" stroke-width="1.1" fill="none"/>
<circle cx="413.9" cy="496.1" r="3.6" fill="#000"/>
<circle cx="492.0" cy="531.0" r="3.6" fill="#000"/>
<circle cx="570.7" cy="521.4" r="3.6" fill="#000"/>
<circle cx="648.8" cy="516.6" r="3.6" fill="#000"/>
<circle cx="413.9" cy="492.0" r="3.1" fill="#fff" stroke="#000" stroke-width="1"/>
<circle cx="492.0" cy="534.5" r="3.1" fill="#fff" stroke="#000" stroke-width="1"/>
<circle cx="570.7" cy="527.8" r="3.1" fill="#fff" stroke="#000" stroke-width="1"/>
<circle cx="648.8" cy="518.2" r="3.1" fill="#fff" stroke="#000" stroke-width="1"/>
<path d="M409.7,483.5L418.1,483.5L413.9,490.6Z" fill="#000"/>
<path d="M487.8,539.5L496.2,539.5L492.0,546.6Z" fill="#000"/>
<path d="M566.5,521.3L574.9,521.3L570.7,528.4Z" fill="#000"/>
<path d="M644.6,516.5L653.0,516.5L648.8,523.6Z" fill="#000"/>
<path d="M410.3,492.7L417.5,492.7L413.9,486.6Z" fill="#fff" stroke="#000" stroke-width="1"/>
<path d="M488.4,525.1L495.6,525.1L492.0,519.0Z" fill="#fff" stroke="#000" stroke-width="1"/>
<path d="M567.1,517.7L574.3,517.7L570.7,511.6Z" fill="#fff" stroke="#000" stroke-width="1"/>
<path d="M645.2,511.9L652.4,511.9L648.8,505.8Z" fill="#fff" stroke="#000" stroke-width="1"/>
<circle cx="413.9" cy="413.6" r="3.6" fill="#000"/>
<circle cx="492.0" cy="385.4" r="3.6" fill="#000"/>
<circle cx="570.7" cy="379.0" r="3.6" fill="#000"/>
<circle cx="648.8" cy="392.8" r="3.6" fill="#000"/>
<circle cx="413.9" cy="419.3" r="3.1" fill="#fff" stroke="#000" stroke-width="1"/>
<circle cx="492.0" cy="410.0" r="3.1" fill="#fff" stroke="#000" stroke-width="1"/>
<circle cx="570.7" cy="379.0" r="3.1" fill="#fff" stroke="#000" stroke-width="1"/>
<circle cx="648.8" cy="402.7" r="3.1" fill="#fff" stroke="#000" stroke-width="1"/>
<circle cx="413.9" cy="362.0" r="3.6" fill="#000"/>
<circle cx="492.0" cy="480.4" r="3.6" fill="#000"/>
<circle cx="570.7" cy="445.6" r="3.6" fill="#000"/>
<circle cx="648.8" cy="429.2" r="3.6" fill="#000"/>
<circle cx="413.9" cy="484.6" r="3.6" fill="#000"/>
<circle cx="492.0" cy="501.2" r="3.6" fill="#000"/>
<circle cx="570.7" cy="515.0" r="3.6" fill="#000"/>
<circle cx="648.8" cy="500.6" r="3.6" fill="#000"/>
<circle cx="413.9" cy="470.5" r="3.1" fill="#fff" stroke="#000" stroke-width="1"/>
<circle cx="492.0" cy="480.4" r="3.1" fill="#fff" stroke="#000" stroke-width="1"/>
<circle cx="570.7" cy="458.4" r="3.1" fill="#fff" stroke="#000" stroke-width="1"/>
<circle cx="648.8" cy="469.9" r="3.1" fill="#fff" stroke="#000" stroke-width="1"/>
<path d="M61.6,635.5V917.6" stroke="#333" stroke-width="1.1" fill="none"/>
<path d="M57.6,635.5H61.6" stroke="#333" stroke-width="1.1"/>
<text x="56.0" y="640.0" font-family="Liberation Sans, sans-serif" font-weight="bold" font-size="13.3" text-anchor="end">.6</text>
<path d="M57.6,676.2H61.6" stroke="#333" stroke-width="1.1"/>
<text x="56.0" y="680.7" font-family="Liberation Sans, sans-serif" font-weight="bold" font-size="13.3" text-anchor="end">.5</text>
<path d="M57.6,717.0H61.6" stroke="#333" stroke-width="1.1"/>
<text x="56.0" y="721.5" font-family="Liberation Sans, sans-serif" font-weight="bold" font-size="13.3" text-anchor="end">.4</text>
<path d="M57.6,757.7H61.6" stroke="#333" stroke-width="1.1"/>
<text x="56.0" y="762.2" font-family="Liberation Sans, sans-serif" font-weight="bold" font-size="13.3" text-anchor="end">.3</text>
<path d="M57.6,798.4H61.6" stroke="#333" stroke-width="1.1"/>
<text x="56.0" y="802.9" font-family="Liberation Sans, sans-serif" font-weight="bold" font-size="13.3" text-anchor="end">.2</text>
<path d="M57.6,839.1H61.6" stroke="#333" stroke-width="1.1"/>
<text x="56.0" y="843.6" font-family="Liberation Sans, sans-serif" font-weight="bold" font-size="13.3" text-anchor="end">.1</text>
<path d="M57.6,879.9H61.6" stroke="#333" stroke-width="1.1"/>
<text x="56.0" y="884.4" font-family="Liberation Sans, sans-serif" font-weight="bold" font-size="13.3" text-anchor="end"></text>
<text x="43.6" y="885.1" font-family="Liberation Sans, sans-serif" font-weight="bold" font-size="13.3">0</text>
<path d="M74,917.4H341" stroke="#333" stroke-width="1.1" fill="none"/>
<path d="M92.9,917.4V921.6" stroke="#333" stroke-width="1.1"/>
<path d="M171.0,917.4V921.6" stroke="#333" stroke-width="1.1"/>
<path d="M249.1,917.4V921.6" stroke="#333" stroke-width="1.1"/>
<path d="M327.6,917.4V921.6" stroke="#333" stroke-width="1.1"/>
<polyline points="92.9,874.5 171.0,873.1 249.1,868.4 327.6,871.3" fill="none" stroke="#FF3535" stroke-width="3.0" stroke-linejoin="round"/>
<polyline points="92.9,859.4 171.0,873.8 249.1,872.0 327.6,868.4" fill="none" stroke="#FFFF00" stroke-width="3.0" stroke-linejoin="round"/>
<polyline points="92.9,859.4 171.0,877.4 249.1,871.3 327.6,869.1" fill="none" stroke="#FF8000" stroke-width="3.0" stroke-linejoin="round"/>
<polyline points="92.9,858.3 171.0,863.5 249.1,864.8 327.6,863.0" fill="none" stroke="#C05800" stroke-width="3.0" stroke-linejoin="round"/>
<polyline points="92.9,816.2 171.0,679.4 249.1,738.1 327.6,745.3" fill="none" stroke="#80FF80" stroke-width="1.5" stroke-linejoin="round"/>
<polyline points="92.9,819.1 171.0,737.7 249.1,738.1 327.6,765.1" fill="none" stroke="#008000" stroke-width="1.5" stroke-linejoin="round"/>
<polyline points="92.9,775.9 171.0,822.3 249.1,826.3 327.6,807.9" fill="none" stroke="#00C090" stroke-width="1.5" stroke-linejoin="round"/>
<polyline points="92.9,857.6 171.0,846.1 249.1,866.6 327.6,855.8" fill="none" stroke="#8000FF" stroke-width="1.5" stroke-linejoin="round" stroke-dasharray="7,3.5"/>
<polyline points="92.9,852.2 171.0,843.9 249.1,813.7 327.6,836.0" fill="none" stroke="#FF00FF" stroke-width="1.5" stroke-linejoin="round" stroke-dasharray="7,3.5"/>
<path d="M92.9,870.0V878.5M88.6,870.0H97.2M88.6,878.5H97.2" stroke="#222" stroke-width="1.1" fill="none"/>
<path d="M171.0,868.0V878.0M166.7,868.0H175.3M166.7,878.0H175.3" stroke="#222" stroke-width="1.1" fill="none"/>
<path d="M249.1,864.0V873.0M244.8,864.0H253.4M244.8,873.0H253.4" stroke="#222" stroke-width="1.1" fill="none"/>
<path d="M327.6,866.0V876.0M323.3,866.0H331.9M323.3,876.0H331.9" stroke="#222" stroke-width="1.1" fill="none"/>
<path d="M92.9,854.0V866.0M88.6,854.0H97.2M88.6,866.0H97.2" stroke="#222" stroke-width="1.1" fill="none"/>
<path d="M171.0,872.0V882.0M166.7,872.0H175.3M166.7,882.0H175.3" stroke="#222" stroke-width="1.1" fill="none"/>
<path d="M249.1,866.0V876.0M244.8,866.0H253.4M244.8,876.0H253.4" stroke="#222" stroke-width="1.1" fill="none"/>
<path d="M327.6,864.0V874.0M323.3,864.0H331.9M323.3,874.0H331.9" stroke="#222" stroke-width="1.1" fill="none"/>
<path d="M92.9,852.0V864.0M88.6,852.0H97.2M88.6,864.0H97.2" stroke="#222" stroke-width="1.1" fill="none"/>
<path d="M171.0,859.5V867.5M166.7,859.5H175.3M166.7,867.5H175.3" stroke="#222" stroke-width="1.1" fill="none"/>
<path d="M249.1,860.0V869.0M244.8,860.0H253.4M244.8,869.0H253.4" stroke="#222" stroke-width="1.1" fill="none"/>
<path d="M327.6,858.0V868.0M323.3,858.0H331.9M323.3,868.0H331.9" stroke="#222" stroke-width="1.1" fill="none"/>
<path d="M92.9,809.7V822.0M88.6,809.7H97.2M88.6,822.0H97.2" stroke="#222" stroke-width="1.1" fill="none"/>
<path d="M171.0,654.2V705.3M166.7,654.2H175.3M166.7,705.3H175.3" stroke="#222" stroke-width="1.1" fill="none"/>
<path d="M327.6,722.6V768.0M323.3,722.6H331.9M323.3,768.0H331.9" stroke="#222" stroke-width="1.1" fill="none"/>
<path d="M92.9,812.6V829.5M88.6,812.6H97.2M88.6,829.5H97.2" stroke="#222" stroke-width="1.1" fill="none"/>
<path d="M171.0,726.9V748.9M166.7,726.9H175.3M166.7,748.9H175.3" stroke="#222" stroke-width="1.1" fill="none"/>
<path d="M249.1,699.2V776.6M244.8,699.2H253.4M244.8,776.6H253.4" stroke="#222" stroke-width="1.1" fill="none"/>
<path d="M327.6,785.6V745.0M323.3,785.6H331.9M323.3,745.0H331.9" stroke="#222" stroke-width="1.1" fill="none"/>
<path d="M92.9,757.5V795.3M88.6,757.5H97.2M88.6,795.3H97.2" stroke="#222" stroke-width="1.1" fill="none"/>
<path d="M171.0,805.4V840.0M166.7,805.4H175.3M166.7,840.0H175.3" stroke="#222" stroke-width="1.1" fill="none"/>
<path d="M249.1,823.4V832.4M244.8,823.4H253.4M244.8,832.4H253.4" stroke="#222" stroke-width="1.1" fill="none"/>
<path d="M327.6,795.3V820.9M323.3,795.3H331.9M323.3,820.9H331.9" stroke="#222" stroke-width="1.1" fill="none"/>
<path d="M92.9,850.0V865.0M88.6,850.0H97.2M88.6,865.0H97.2" stroke="#222" stroke-width="1.1" fill="none"/>
<path d="M171.0,839.7V859.5M166.7,839.7H175.3M166.7,859.5H175.3" stroke="#222" stroke-width="1.1" fill="none"/>
<path d="M249.1,860.0V872.0M244.8,860.0H253.4M244.8,872.0H253.4" stroke="#222" stroke-width="1.1" fill="none"/>
<path d="M327.6,850.0V862.0M323.3,850.0H331.9M323.3,862.0H331.9" stroke="#222" stroke-width="1.1" fill="none"/>
<path d="M92.9,843.9V860.0M88.6,843.9H97.2M88.6,860.0H97.2" stroke="#222" stroke-width="1.1" fill="none"/>
<path d="M171.0,839.7V848.0M166.7,839.7H175.3M166.7,848.0H175.3" stroke="#222" stroke-width="1.1" fill="none"/>
<path d="M249.1,795.0V832.0M244.8,795.0H253.4M244.8,832.0H253.4" stroke="#222" stroke-width="1.1" fill="none"/>
<path d="M327.6,820.0V850.0M323.3,820.0H331.9M323.3,850.0H331.9" stroke="#222" stroke-width="1.1" fill="none"/>
<circle cx="92.9" cy="874.5" r="3.6" fill="#000"/>
<circle cx="171.0" cy="873.1" r="3.6" fill="#000"/>
<circle cx="249.1" cy="868.4" r="3.6" fill="#000"/>
<circle cx="327.6" cy="871.3" r="3.6" fill="#000"/>
<circle cx="92.9" cy="859.4" r="3.1" fill="#fff" stroke="#000" stroke-width="1"/>
<circle cx="171.0" cy="873.8" r="3.1" fill="#fff" stroke="#000" stroke-width="1"/>
<circle cx="249.1" cy="872.0" r="3.1" fill="#fff" stroke="#000" stroke-width="1"/>
<circle cx="327.6" cy="868.4" r="3.1" fill="#fff" stroke="#000" stroke-width="1"/>
<path d="M88.7,856.1L97.1,856.1L92.9,863.2Z" fill="#000"/>
<path d="M166.8,874.1L175.2,874.1L171.0,881.2Z" fill="#000"/>
<path d="M244.9,868.0L253.3,868.0L249.1,875.1Z" fill="#000"/>
<path d="M323.4,865.8L331.8,865.8L327.6,872.9Z" fill="#000"/>
<path d="M89.3,861.0L96.5,861.0L92.9,854.9Z" fill="#fff" stroke="#000" stroke-width="1"/>
<path d="M167.4,866.2L174.6,866.2L171.0,860.1Z" fill="#fff" stroke="#000" stroke-width="1"/>
<path d="M245.5,867.5L252.7,867.5L249.1,861.4Z" fill="#fff" stroke="#000" stroke-width="1"/>
<path d="M324.0,865.7L331.2,865.7L327.6,859.6Z" fill="#fff" stroke="#000" stroke-width="1"/>
<circle cx="92.9" cy="816.2" r="3.6" fill="#000"/>
<circle cx="171.0" cy="679.4" r="3.6" fill="#000"/>
<circle cx="249.1" cy="738.1" r="3.6" fill="#000"/>
<circle cx="327.6" cy="745.3" r="3.6" fill="#000"/>
<circle cx="92.9" cy="819.1" r="3.1" fill="#fff" stroke="#000" stroke-width="1"/>
<circle cx="171.0" cy="737.7" r="3.1" fill="#fff" stroke="#000" stroke-width="1"/>
<circle cx="249.1" cy="738.1" r="3.1" fill="#fff" stroke="#000" stroke-width="1"/>
<circle cx="327.6" cy="765.1" r="3.1" fill="#fff" stroke="#000" stroke-width="1"/>
<circle cx="92.9" cy="775.9" r="3.6" fill="#000"/>
<circle cx="171.0" cy="822.3" r="3.6" fill="#000"/>
<circle cx="249.1" cy="826.3" r="3.6" fill="#000"/>
<circle cx="327.6" cy="807.9" r="3.6" fill="#000"/>
<circle cx="92.9" cy="857.6" r="3.6" fill="#000"/>
<circle cx="171.0" cy="846.1" r="3.6" fill="#000"/>
<circle cx="249.1" cy="866.6" r="3.6" fill="#000"/>
<circle cx="327.6" cy="855.8" r="3.6" fill="#000"/>
<circle cx="92.9" cy="852.2" r="3.1" fill="#fff" stroke="#000" stroke-width="1"/>
<circle cx="171.0" cy="843.9" r="3.1" fill="#fff" stroke="#000" stroke-width="1"/>
<circle cx="249.1" cy="813.7" r="3.1" fill="#fff" stroke="#000" stroke-width="1"/>
<circle cx="327.6" cy="836.0" r="3.1" fill="#fff" stroke="#000" stroke-width="1"/>
<path d="M681.4,635.1V917.4" stroke="#333" stroke-width="1.1" fill="none"/>
<path d="M681.4,635.1H685.4" stroke="#333" stroke-width="1.1"/>
<text x="696.8" y="638.7" font-family="Liberation Sans, sans-serif" font-weight="bold" font-size="13.3">5</text>
<path d="M681.4,691.6H685.4" stroke="#333" stroke-width="1.1"/>
<text x="696.8" y="695.2" font-family="Liberation Sans, sans-serif" font-weight="bold" font-size="13.3">4</text>
<path d="M681.4,748.0H685.4" stroke="#333" stroke-width="1.1"/>
<text x="696.8" y="751.6" font-family="Liberation Sans, sans-serif" font-weight="bold" font-size="13.3">3</text>
<path d="M681.4,804.5H685.4" stroke="#333" stroke-width="1.1"/>
<text x="696.8" y="808.1" font-family="Liberation Sans, sans-serif" font-weight="bold" font-size="13.3">2</text>
<path d="M681.4,860.9H685.4" stroke="#333" stroke-width="1.1"/>
<text x="696.8" y="864.5" font-family="Liberation Sans, sans-serif" font-weight="bold" font-size="13.3">1</text>
<path d="M681.4,917.4H685.4" stroke="#333" stroke-width="1.1"/>
<text x="696.8" y="921.0" font-family="Liberation Sans, sans-serif" font-weight="bold" font-size="13.3">0</text>
<path d="M397.8,917.5H664.8" stroke="#333" stroke-width="1.1" fill="none"/>
<path d="M413.1,917.5V921.7" stroke="#333" stroke-width="1.1"/>
<path d="M491.2,917.5V921.7" stroke="#333" stroke-width="1.1"/>
<path d="M569.7,917.5V921.7" stroke="#333" stroke-width="1.1"/>
<path d="M648.2,917.5V921.7" stroke="#333" stroke-width="1.1"/>
<polyline points="413.1,707.5 491.2,743.1 569.7,728.0 648.2,726.6" fill="none" stroke="#FF3535" stroke-width="3.0" stroke-linejoin="round"/>
<polyline points="413.1,701.0 491.2,774.1 569.7,720.8 648.2,731.6" fill="none" stroke="#FFFF00" stroke-width="3.0" stroke-linejoin="round"/>
<polyline points="413.1,731.6 491.2,796.4 569.7,728.0 648.2,751.4" fill="none" stroke="#FF8000" stroke-width="3.0" stroke-linejoin="round"/>
<polyline points="413.1,717.2 491.2,797.1 569.7,740.6 648.2,751.4" fill="none" stroke="#C05800" stroke-width="3.0" stroke-linejoin="round"/>
<polyline points="413.1,729.8 491.2,841.5 569.7,809.0 648.2,792.8" fill="none" stroke="#80FF80" stroke-width="1.5" stroke-linejoin="round"/>
<polyline points="413.1,730.9 491.2,833.1 569.7,809.0 648.2,791.0" fill="none" stroke="#008000" stroke-width="1.5" stroke-linejoin="round"/>
<polyline points="413.1,753.2 491.2,818.0 569.7,768.7 648.2,780.2" fill="none" stroke="#00C090" stroke-width="1.5" stroke-linejoin="round"/>
<polyline points="413.1,704.6 491.2,804.3 569.7,740.6 648.2,747.8" fill="none" stroke="#8000FF" stroke-width="1.5" stroke-linejoin="round" stroke-dasharray="7,3.5"/>
<polyline points="413.1,699.9 491.2,876.7 569.7,810.8 648.2,796.4" fill="none" stroke="#FF00FF" stroke-width="1.5" stroke-linejoin="round" stroke-dasharray="7,3.5"/>
<path d="M413.1,697.0V718.0M408.8,697.0H417.4M408.8,718.0H417.4" stroke="#222" stroke-width="1.1" fill="none"/>
<path d="M491.2,735.1V752.8M486.9,735.1H495.5M486.9,752.8H495.5" stroke="#222" stroke-width="1.1" fill="none"/>
<path d="M569.7,718.0V738.0M565.4,718.0H574.0M565.4,738.0H574.0" stroke="#222" stroke-width="1.1" fill="none"/>
<path d="M648.2,717.0V736.0M643.9,717.0H652.5M643.9,736.0H652.5" stroke="#222" stroke-width="1.1" fill="none"/>
<path d="M413.1,689.0V712.0M408.8,689.0H417.4M408.8,712.0H417.4" stroke="#222" stroke-width="1.1" fill="none"/>
<path d="M491.2,770.0V779.4M486.9,770.0H495.5M486.9,779.4H495.5" stroke="#222" stroke-width="1.1" fill="none"/>
<path d="M569.7,708.0V734.0M565.4,708.0H574.0M565.4,734.0H574.0" stroke="#222" stroke-width="1.1" fill="none"/>
<path d="M648.2,722.0V741.0M643.9,722.0H652.5M643.9,741.0H652.5" stroke="#222" stroke-width="1.1" fill="none"/>
<path d="M413.1,705.0V729.0M408.8,705.0H417.4M408.8,729.0H417.4" stroke="#222" stroke-width="1.1" fill="none"/>
<path d="M491.2,788.0V806.0M486.9,788.0H495.5M486.9,806.0H495.5" stroke="#222" stroke-width="1.1" fill="none"/>
<path d="M569.7,732.0V750.0M565.4,732.0H574.0M565.4,750.0H574.0" stroke="#222" stroke-width="1.1" fill="none"/>
<path d="M648.2,742.0V760.0M643.9,742.0H652.5M643.9,760.0H652.5" stroke="#222" stroke-width="1.1" fill="none"/>
<path d="M413.1,720.0V740.0M408.8,720.0H417.4M408.8,740.0H417.4" stroke="#222" stroke-width="1.1" fill="none"/>
<path d="M491.2,834.5V848.5M486.9,834.5H495.5M486.9,848.5H495.5" stroke="#222" stroke-width="1.1" fill="none"/>
<path d="M569.7,798.0V820.0M565.4,798.0H574.0M565.4,820.0H574.0" stroke="#222" stroke-width="1.1" fill="none"/>
<path d="M648.2,785.0V800.0M643.9,785.0H652.5M643.9,800.0H652.5" stroke="#222" stroke-width="1.1" fill="none"/>
<path d="M413.1,715.0V746.0M408.8,715.0H417.4M408.8,746.0H417.4" stroke="#222" stroke-width="1.1" fill="none"/>
<path d="M491.2,828.2V838.4M486.9,828.2H495.5M486.9,838.4H495.5" stroke="#222" stroke-width="1.1" fill="none"/>
<path d="M569.7,793.0V825.0M565.4,793.0H574.0M565.4,825.0H574.0" stroke="#222" stroke-width="1.1" fill="none"/>
<path d="M648.2,784.0V798.0M643.9,784.0H652.5M643.9,798.0H652.5" stroke="#222" stroke-width="1.1" fill="none"/>
<path d="M413.1,735.0V771.0M408.8,735.0H417.4M408.8,771.0H417.4" stroke="#222" stroke-width="1.1" fill="none"/>
<path d="M491.2,812.4V824.8M486.9,812.4H495.5M486.9,824.8H495.5" stroke="#222" stroke-width="1.1" fill="none"/>
<path d="M569.7,758.0V780.0M565.4,758.0H574.0M565.4,780.0H574.0" stroke="#222" stroke-width="1.1" fill="none"/>
<path d="M648.2,768.0V792.0M643.9,768.0H652.5M643.9,792.0H652.5" stroke="#222" stroke-width="1.1" fill="none"/>
<path d="M413.1,690.0V718.0M408.8,690.0H417.4M408.8,718.0H417.4" stroke="#222" stroke-width="1.1" fill="none"/>
<path d="M491.2,789.3V808.8M486.9,789.3H495.5M486.9,808.8H495.5" stroke="#222" stroke-width="1.1" fill="none"/>
<path d="M569.7,728.0V754.0M565.4,728.0H574.0M565.4,754.0H574.0" stroke="#222" stroke-width="1.1" fill="none"/>
<path d="M648.2,738.0V758.0M643.9,738.0H652.5M643.9,758.0H652.5" stroke="#222" stroke-width="1.1" fill="none"/>
<path d="M413.1,688.0V712.0M408.8,688.0H417.4M408.8,712.0H417.4" stroke="#222" stroke-width="1.1" fill="none"/>
<path d="M491.2,862.0V891.0M486.9,862.0H495.5M486.9,891.0H495.5" stroke="#222" stroke-width="1.1" fill="none"/>
<path d="M569.7,795.0V826.0M565.4,795.0H574.0M565.4,826.0H574.0" stroke="#222" stroke-width="1.1" fill="none"/>
<path d="M648.2,789.0V804.0M643.9,789.0H652.5M643.9,804.0H652.5" stroke="#222" stroke-width="1.1" fill="none"/>
<circle cx="413.1" cy="707.5" r="3.6" fill="#000"/>
<circle cx="491.2" cy="743.1" r="3.6" fill="#000"/>
<circle cx="569.7" cy="728.0" r="3.6" fill="#000"/>
<circle cx="648.2" cy="726.6" r="3.6" fill="#000"/>
<circle cx="413.1" cy="701.0" r="3.1" fill="#fff" stroke="#000" stroke-width="1"/>
<circle cx="491.2" cy="774.1" r="3.1" fill="#fff" stroke="#000" stroke-width="1"/>
<circle cx="569.7" cy="720.8" r="3.1" fill="#fff" stroke="#000" stroke-width="1"/>
<circle cx="648.2" cy="731.6" r="3.1" fill="#fff" stroke="#000" stroke-width="1"/>
<path d="M408.9,728.3L417.3,728.3L413.1,735.4Z" fill="#000"/>
<path d="M487.0,793.1L495.4,793.1L491.2,800.2Z" fill="#000"/>
<path d="M565.5,724.7L573.9,724.7L569.7,731.8Z" fill="#000"/>
<path d="M644.0,748.1L652.4,748.1L648.2,755.2Z" fill="#000"/>
<path d="M409.5,719.9L416.7,719.9L413.1,713.8Z" fill="#fff" stroke="#000" stroke-width="1"/>
<path d="M487.6,799.8L494.8,799.8L491.2,793.7Z" fill="#fff" stroke="#000" stroke-width="1"/>
<path d="M566.1,743.3L573.3,743.3L569.7,737.2Z" fill="#fff" stroke="#000" stroke-width="1"/>
<path d="M644.6,754.1L651.8,754.1L648.2,748.0Z" fill="#fff" stroke="#000" stroke-width="1"/>
<circle cx="413.1" cy="729.8" r="3.6" fill="#000"/>
<circle cx="491.2" cy="841.5" r="3.6" fill="#000"/>
<circle cx="569.7" cy="809.0" r="3.6" fill="#000"/>
<circle cx="648.2" cy="792.8" r="3.6" fill="#000"/>
<circle cx="413.1" cy="730.9" r="3.1" fill="#fff" stroke="#000" stroke-width="1"/>
<circle cx="491.2" cy="833.1" r="3.1" fill="#fff" stroke="#000" stroke-width="1"/>
<circle cx="569.7" cy="809.0" r="3.1" fill="#fff" stroke="#000" stroke-width="1"/>
<circle cx="648.2" cy="791.0" r="3.1" fill="#fff" stroke="#000" stroke-width="1"/>
<circle cx="413.1" cy="753.2" r="3.6" fill="#000"/>
<circle cx="491.2" cy="818.0" r="3.6" fill="#000"/>
<circle cx="569.7" cy="768.7" r="3.6" fill="#000"/>
<circle cx="648.2" cy="780.2" r="3.6" fill="#000"/>
<circle cx="413.1" cy="704.6" r="3.6" fill="#000"/>
<circle cx="491.2" cy="804.3" r="3.6" fill="#000"/>
<circle cx="569.7" cy="740.6" r="3.6" fill="#000"/>
<circle cx="648.2" cy="747.8" r="3.6" fill="#000"/>
<circle cx="413.1" cy="699.9" r="3.1" fill="#fff" stroke="#000" stroke-width="1"/>
<circle cx="491.2" cy="876.7" r="3.1" fill="#fff" stroke="#000" stroke-width="1"/>
<circle cx="569.7" cy="810.8" r="3.1" fill="#fff" stroke="#000" stroke-width="1"/>
<circle cx="648.2" cy="796.4" r="3.1" fill="#fff" stroke="#000" stroke-width="1"/>
<text x="76.9" y="940.5" font-family="Liberation Serif, serif" font-weight="bold" font-size="20">June</text>
<text x="150.4" y="940.5" font-family="Liberation Serif, serif" font-weight="bold" font-size="20">July</text>
<text x="206.8" y="940.5" font-family="Liberation Serif, serif" font-weight="bold" font-size="20">August</text>
<text x="285.6" y="940.5" font-family="Liberation Serif, serif" font-weight="bold" font-size="20">September</text>
<text x="394.4" y="940.5" font-family="Liberation Serif, serif" font-weight="bold" font-size="20">June</text>
<text x="468.1" y="940.5" font-family="Liberation Serif, serif" font-weight="bold" font-size="20">July</text>
<text x="525.2" y="940.5" font-family="Liberation Serif, serif" font-weight="bold" font-size="20">August</text>
<text x="603.5" y="940.5" font-family="Liberation Serif, serif" font-weight="bold" font-size="20">September</text>
<text transform="translate(17.1,167.4) rotate(-90)" font-family="Liberation Serif, serif" font-weight="bold" font-size="20" text-anchor="middle">Rc (%)</text>
<text transform="translate(17.3,542.1) rotate(-90)" font-family="Liberation Serif, serif" font-weight="bold" font-size="20">Pn(<tspan font-size="15">&#956;mol&#183;m</tspan><tspan font-size="10" dy="-7">-2</tspan><tspan font-size="15" dy="7">&#183;s</tspan><tspan font-size="10" dy="-7">-1</tspan><tspan font-size="15" dy="7"> CO</tspan><tspan font-size="10" dy="3">2</tspan><tspan dy="-3">)</tspan></text>
<text transform="translate(23.0,826.2) rotate(-90)" font-family="Liberation Serif, serif" font-weight="bold" font-size="20">Gs(<tspan font-size="16">mmol&#183;m</tspan><tspan font-size="10.5" dy="-7.5">-2</tspan><tspan font-size="16" dy="7.5">s</tspan><tspan font-size="10" dy="-7">-1</tspan><tspan dy="7"> )</tspan></text>
<text transform="translate(749,114) rotate(90)" font-family="Liberation Serif, serif" font-weight="bold" font-size="20">Ci(<tspan font-size="15">&#956;mol&#183;mol</tspan><tspan font-size="10" dy="-7">-1</tspan><tspan dy="7">)</tspan></text>
<text transform="translate(752,414.5) rotate(90)" font-family="Liberation Serif, serif" font-weight="bold" font-size="20">Tr(<tspan font-size="16">g&#183; m</tspan><tspan font-size="10.5" dy="-7.5">-2</tspan><tspan font-size="16" dy="7.5">&#183;h</tspan><tspan font-size="10" dy="-7">-1</tspan><tspan dy="7">)</tspan></text>
<text transform="translate(744.8,724.2) rotate(90)" font-family="Liberation Serif, serif" font-weight="bold" font-size="20">Vpdl</text>
<path d="M806.5,738.8H853" stroke="#FF3535" stroke-width="3.6" stroke-linecap="round"/>
<circle cx="830.4" cy="738.8" r="3.6" fill="#000"/>
<text x="866.5" y="743.9" font-family="Liberation Serif, serif" font-weight="bold" font-style="italic" font-size="15.4">Gnetum luofuense</text>
<path d="M806.5,762.6H853" stroke="#FFFF00" stroke-width="3.6" stroke-linecap="round"/>
<circle cx="830.4" cy="762.6" r="3.1" fill="#fff" stroke="#000" stroke-width="1"/>
<text x="866.5" y="767.0" font-family="Liberation Serif, serif" font-weight="bold" font-style="italic" font-size="15.4">Gnetum montanum</text>
<path d="M806.5,786.2H853" stroke="#FF8000" stroke-width="3.6" stroke-linecap="round"/>
<path d="M826.2,782.9L834.6,782.9L830.4,790.0Z" fill="#000"/>
<text x="866.5" y="790.4" font-family="Liberation Serif, serif" font-weight="bold" font-style="italic" font-size="15.4">Gnetum pendulum</text>
<path d="M806.5,808.4H853" stroke="#C05800" stroke-width="3.6" stroke-linecap="round"/>
<path d="M826.8,811.1L834.0,811.1L830.4,805.0Z" fill="#fff" stroke="#000" stroke-width="1"/>
<text x="866.5" y="812.5" font-family="Liberation Serif, serif" font-weight="bold" font-style="italic" font-size="15.4">Gnetum gnemon</text>
<path d="M808.8,838.3H822.3" stroke="#8000FF" stroke-width="3.2" stroke-linecap="round"/>
<path d="M834.6,838.3H838M840.3,838.3H845" stroke="#8000FF" stroke-width="1.3"/>
<circle cx="831.5" cy="838.3" r="3.6" fill="#000"/>
<text x="866.5" y="843.2" font-family="Liberation Serif, serif" font-weight="bold" font-style="italic" font-size="15.4">Ginkgo biloba</text>
<path d="M808.8,856.7H822.3" stroke="#FF00FF" stroke-width="3.2" stroke-linecap="round"/>
<path d="M834.6,856.7H838M840.3,856.7H845" stroke="#FF00FF" stroke-width="1.3"/>
<circle cx="831.5" cy="856.7" r="3.1" fill="#fff" stroke="#000" stroke-width="1"/>
<text x="866.5" y="861.7" font-family="Liberation Serif, serif" font-weight="bold" font-style="italic" font-size="15.4">Pinus tabuliformis</text>
<path d="M808.8,890.7H855" stroke="#80FF80" stroke-width="3.6" stroke-linecap="round"/>
<circle cx="831.5" cy="890.7" r="3.6" fill="#000"/>
<text x="866.5" y="895.0" font-family="Liberation Serif, serif" font-weight="bold" font-style="italic" font-size="15.4">Salix babylonica</text>
<path d="M808.8,912.2H855" stroke="#008000" stroke-width="3.6" stroke-linecap="round"/>
<circle cx="831.5" cy="912.2" r="3.1" fill="#fff" stroke="#000" stroke-width="1"/>
<text x="866.5" y="916.7" font-family="Liberation Serif, serif" font-weight="bold" font-style="italic" font-size="15.4">Populus tomentosa</text>
<path d="M808.8,932.5H855" stroke="#00C090" stroke-width="3.6" stroke-linecap="round"/>
<circle cx="831.5" cy="932.5" r="3.6" fill="#000"/>
<text x="866.5" y="937.0" font-family="Liberation Serif, serif" font-weight="bold" font-style="italic" font-size="15.4">Sasa argenteostriata</text>
</svg>
</body></html>
